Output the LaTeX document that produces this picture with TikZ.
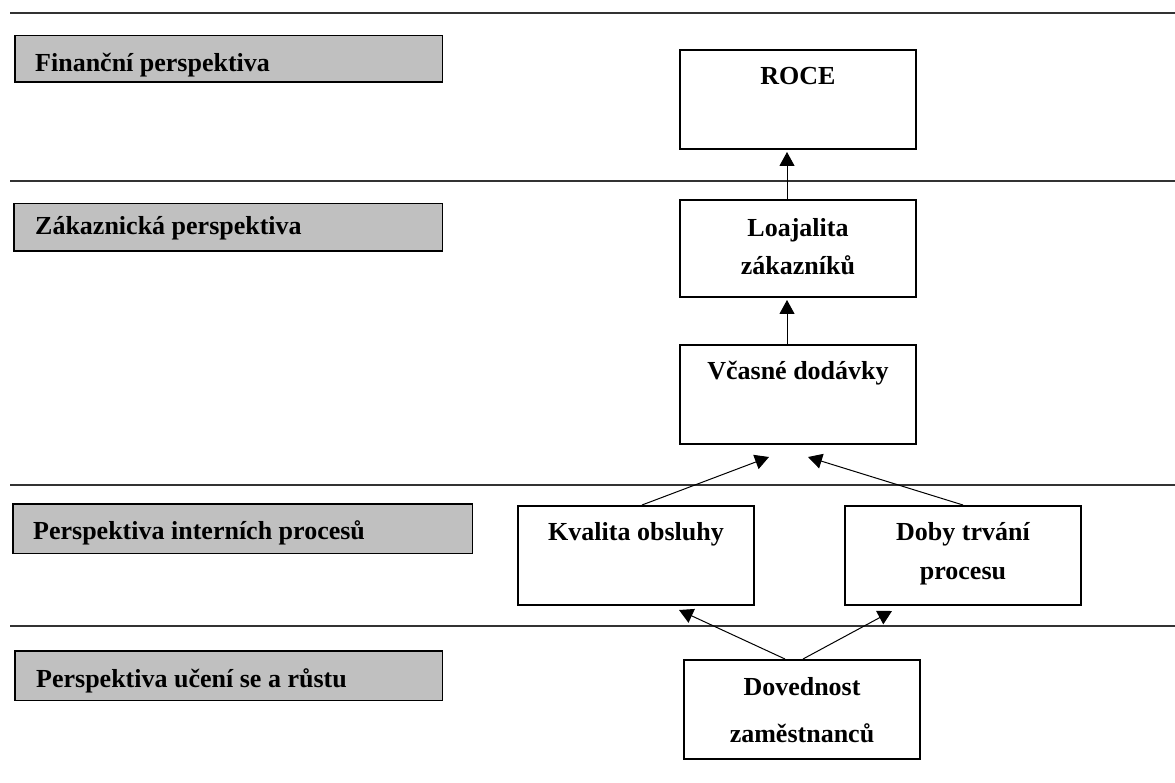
\documentclass[tikz,border=0pt]{standalone}
\usepackage{fontspec}
\setmainfont{Liberation Serif}
\usetikzlibrary{arrows.meta}
\definecolor{bandgray}{HTML}{C0C0C0}
\definecolor{rulegray}{HTML}{333333}
\begin{document}
\begin{tikzpicture}[x=1pt,y=-1pt,
  box/.style={draw, line width=2pt, inner sep=0pt, anchor=north west,
              minimum width=236pt, minimum height=99pt},
  band/.style={draw, fill=bandgray, line width=1.5pt, inner sep=0pt, anchor=north west},
  txt/.style={font=\bfseries\fontsize{26}{38}\selectfont, inner sep=0pt, anchor=base},
  bandtxt/.style={font=\bfseries\fontsize{26}{38}\selectfont, inner sep=0pt, anchor=base west},
  arr/.style={line width=1pt, -{Triangle[length=14pt,width=15pt]}},
  rule/.style={draw=rulegray, line width=1.2pt}]

\useasboundingbox[fill=white] (0,0) rectangle (1175,783);

% separators between the four perspectives
\coordinate (r1a) at (10,13);  \coordinate (r1b) at (1175,13);
\coordinate (r2a) at (10,181); \coordinate (r2b) at (1175,181);
\coordinate (r3a) at (10,485); \coordinate (r3b) at (1175,485);
\coordinate (r4a) at (10,626); \coordinate (r4b) at (1175,626);
\draw[rule] (r1a) -- (r1b);
\draw[rule] (r2a) -- (r2b);
\draw[rule] (r3a) -- (r3b);
\draw[rule] (r4a) -- (r4b);

% grey perspective labels
\node[band, minimum width=427.5pt, minimum height=46.5pt] (b1) at (14,35) {};
\node[bandtxt] (b1t) at ([xshift=21pt,yshift=-37pt]b1.north west) {Finanční perspektiva};
\node[band, minimum width=428.5pt, minimum height=47.5pt] (b2) at (13,203) {};
\node[bandtxt] (b2t) at ([xshift=22pt,yshift=-32pt]b2.north west) {Zákaznická perspektiva};
\node[band, minimum width=459.5pt, minimum height=49.5pt] (b3) at (12,503) {};
\node[bandtxt] (b3t) at ([xshift=21pt,yshift=-36pt]b3.north west) {Perspektiva interních procesů};
\node[band, minimum width=427.5pt, minimum height=49.5pt] (b4) at (14,650) {};
\node[bandtxt] (b4t) at ([xshift=22pt,yshift=-37pt]b4.north west) {Perspektiva učení se a růstu};

% measures
\node[box] (roce) at (679,49) {};
\node[txt] (roceT) at ([yshift=-36pt]roce.north) {ROCE};

\node[box, minimum height=97pt] (loaj) at (679,199) {};
\node[txt] (loajT1) at ([yshift=-38pt]loaj.north) {Loajalita};
\node[txt] (loajT2) at ([yshift=-76pt]loaj.north) {zákazníků};

\node[box] (vcas) at (679,344) {};
\node[txt] (vcasT) at ([yshift=-36pt]vcas.north) {Včasné dodávky};

\node[box] (kval) at (517,505) {};
\node[txt] (kvalT) at ([yshift=-35pt]kval.north) {Kvalita obsluhy};

\node[box] (doby) at (844,505) {};
\node[txt] (dobyT1) at ([yshift=-35pt]doby.north) {Doby trvání};
\node[txt] (dobyT2) at ([yshift=-74pt]doby.north) {procesu};

\node[box] (dove) at (683,659) {};
\node[txt] (doveT1) at ([yshift=-36pt]dove.north) {Dovednost};
\node[txt] (doveT2) at ([yshift=-83pt]dove.north) {zaměstnanců};

% cause-and-effect links
\draw[arr] ([xshift=-11pt]loaj.north) -- ([xshift=-11pt,yshift=-2pt]roce.south);
\draw[arr] ([xshift=-11pt]vcas.north) -- ([xshift=-11pt,yshift=-2pt]loaj.south);
\draw[arr] ([xshift=6pt]kval.north) -- ([xshift=-29pt,yshift=-12pt]vcas.south);
\draw[arr] (doby.north) -- ([xshift=10pt,yshift=-12pt]vcas.south);
\draw[arr] ([xshift=-17pt]dove.north) -- ([xshift=43pt,yshift=-4pt]kval.south);
\draw[arr] ([xshift=1pt]dove.north) -- ([xshift=-71pt,yshift=-5pt]doby.south);

\end{tikzpicture}
\end{document}
